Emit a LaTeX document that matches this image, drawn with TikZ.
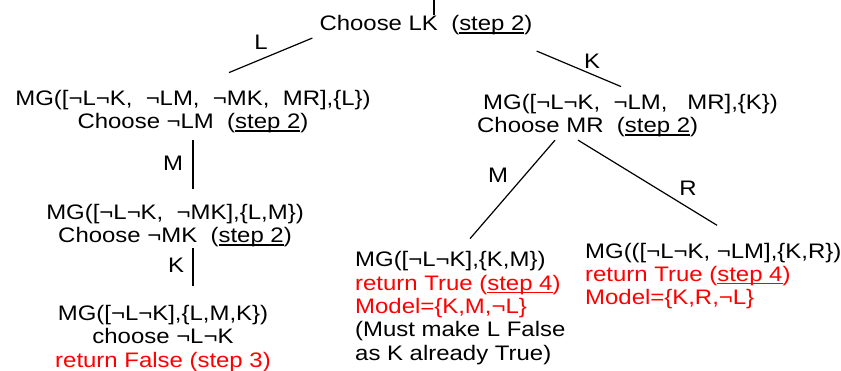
\documentclass[tikz,border=0pt]{standalone}
\usepackage{fontspec}
\setmainfont{Liberation Sans}[FakeStretch=1.14]
\usetikzlibrary{calc}
\newcommand{\ulx}[1]{\setbox0=\hbox{#1}\rlap{\rule[-2.6pt]{\wd0}{1.1pt}}\box0}
\begin{document}
\begin{tikzpicture}[x=1pt,y=-1pt,
  txt/.style={inner sep=0pt, font=\fontsize{21}{23.3}\selectfont},
  lbl/.style={inner sep=0pt, font=\fontsize{21}{23.3}\selectfont},
  conn/.style={draw=black, line width=1.2pt}]
\useasboundingbox (0,0) rectangle (841,371);
% tree nodes (base = baseline of the last line)
\node[txt, anchor=base] (root) at (426,31) {Choose LK~~(\ulx{step 2})};
\node[txt, align=center, anchor=base] (n1) at (193,129) {MG([¬L¬K,~~¬LM,~~¬MK,~~MR],\{L\})\\Choose ¬LM~~(\ulx{step 2})};
\node[txt, align=center, anchor=base] (n2) at (175,243) {MG([¬L¬K,~~¬MK],\{L,M\})\\Choose ¬MK~~(\ulx{step 2})};
\node[txt, align=center, anchor=base] (n3) at (163,367) {MG([¬L¬K],\{L,M,K\})\\choose ¬L¬K\\\textcolor{red}{return False (step 3)}};
\node[txt, align=left, anchor=base west] (r1) at (477,133) {\hspace*{6pt}MG([¬L¬K,~~¬LM,~~~MR],\{K\})\\Choose MR~~(\ulx{step 2})};
\node[txt, align=left, anchor=base west] (r2) at (355,360) {MG([¬L¬K],\{K,M\})\\\textcolor{red}{return True (\ulx{step 4})}\\\textcolor{red}{Model=\{K,M,¬L\}}\\(Must make L False\\as K already True)};
\node[txt, align=left, anchor=base west] (r3) at (585,305) {MG(([¬L¬K, ¬LM],\{K,R\})\\\textcolor{red}{return True (\ulx{step 4})}\\\textcolor{red}{Model=\{K,R,¬L\}}};
% edge labels
\node[lbl] (lL) at (261,42) {L};
\node[lbl] (lK) at (592,61) {K};
\node[lbl] (lM1) at (173,163) {M};
\node[lbl] (lK2) at (176,265) {K};
\node[lbl] (lM2) at (498,175) {M};
\node[lbl] (lR) at (688,188) {R};
% connectors
\coordinate (entry) at (434,0);
\draw[conn] (entry) -- ([yshift=1pt]entry |- root.north);
\draw[conn] ([shift={(-7,2.5)}]root.south west) -- ([shift={(36,-17.7)}]n1.north);
\draw[conn] ([shift={(4,15.5)}]root.south east) -- ([shift={(-6.5,-7.7)}]r1.north);
\draw[conn, shorten <=6.6pt, shorten >=15.7pt] (n1.south) -- (n1.south |- n2.north);
\draw[conn, shorten <=0.6pt, shorten >=18.7pt] (n2.south -| n1.south) -- (n3.north -| n1.south);
\draw[conn] ([shift={(-72.5,2.6)}]r1.south) -- ([shift={(115,-12.7)}]r2.north west);
\draw[conn] ([shift={(-49.5,2.6)}]r1.south) -- ([shift={(132,-17.7)}]r3.north west);
\end{tikzpicture}
\end{document}
